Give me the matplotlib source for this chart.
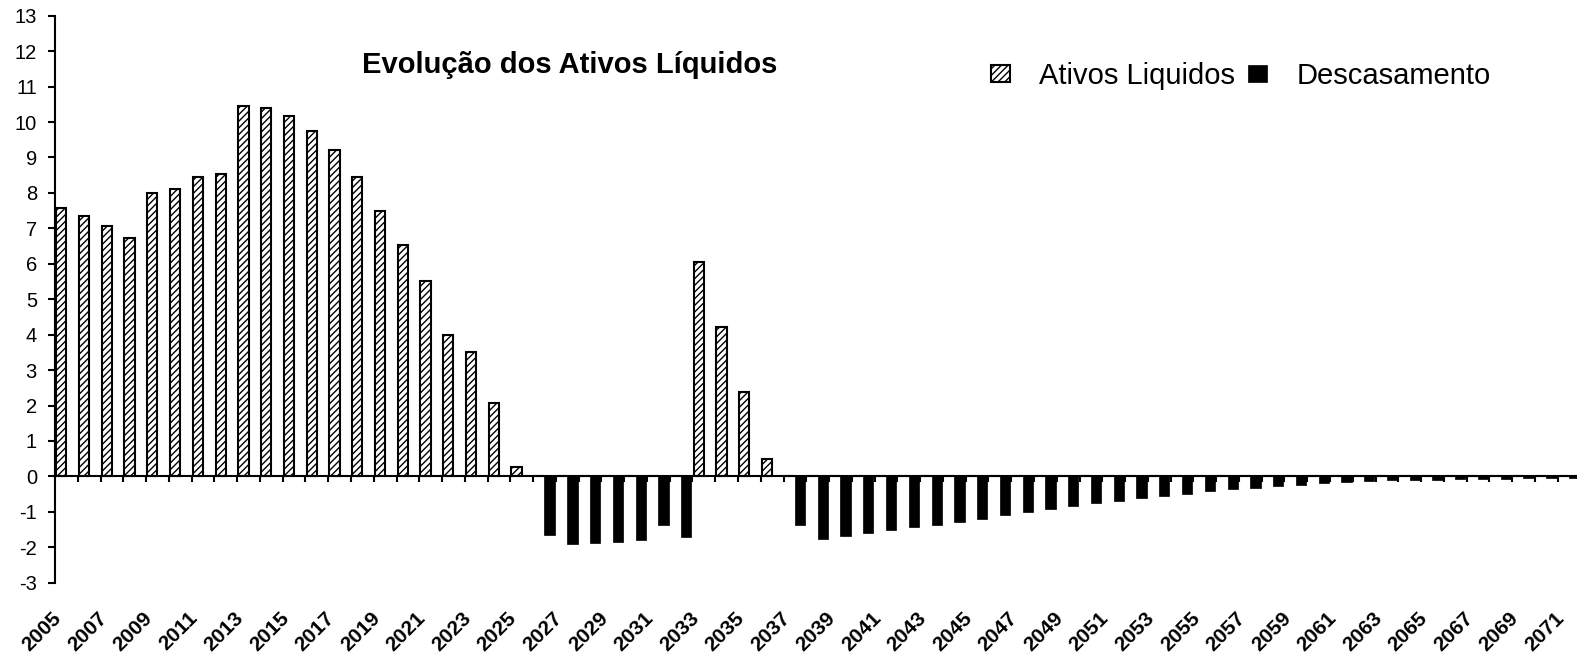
import numpy as np
import matplotlib
matplotlib.use('Agg')
import matplotlib.pyplot as plt
from matplotlib.transforms import ScaledTranslation

plt.rcParams['font.family'] = ['Liberation Sans', 'DejaVu Sans']
plt.rcParams['axes.unicode_minus'] = False
plt.rcParams['hatch.linewidth'] = 1.0

years = list(range(2005, 2072))

ativos = [7.56, 7.34, 7.06, 6.73, 7.99, 8.12, 8.46, 8.52, 10.44, 10.39,
          10.16, 9.74, 9.20, 8.45, 7.50, 6.53, 5.52, 4.00, 3.50, 2.07,
          0.27, 0, 0, 0, 0, 0, 0, 0, 6.05, 4.22,
          2.37, 0.49] + [0] * 35

descasamento = [0] * 21 + [-1.66, -1.91, -1.89, -1.85, -1.80, -1.37, -1.71,
                           0, 0, 0, 0,
                           -1.36, -1.76, -1.68, -1.61, -1.52, -1.44, -1.36, -1.28, -1.19, -1.08,
                           -1.01, -0.93, -0.84, -0.76, -0.69, -0.61, -0.55, -0.49, -0.42, -0.37,
                           -0.33, -0.28, -0.24, -0.20, -0.16, -0.13, -0.11, -0.10, -0.09, -0.08,
                           -0.07, -0.06, -0.05, -0.05, -0.04]

W, H = 1577, 653
fig = plt.figure(figsize=(W / 100, H / 100), dpi=100)
ax = fig.add_axes([55 / W, (H - 582.7) / H, 1 - 55 / W, 567 / H])

x = np.arange(len(years))
w = 0.45
b1 = ax.bar(x - w / 2, ativos, w, facecolor='white', edgecolor='black',
            linewidth=1.5, hatch='/////', label='Ativos Liquidos')
b2 = ax.bar(x + w / 2, descasamento, w, facecolor='black', edgecolor='black',
            linewidth=0.5, label='Descasamento')

ax.set_xlim(-0.5, 66.35)
ax.set_ylim(-3, 13)
ax.set_yticks(range(-3, 14))

for s in ['top', 'right']:
    ax.spines[s].set_visible(False)
ax.spines['bottom'].set_position(('data', 0))
ax.spines['left'].set_linewidth(1.5)
ax.spines['bottom'].set_linewidth(1.5)

ax.tick_params(axis='y', direction='out', length=5, width=1.5, pad=8,
               labelsize=14.5)

# category boundaries as minor ticks, labels on every other year
ax.set_xticks(np.arange(0.5, 66, 1), minor=True)
ax.set_xticks(x[::2])
ax.set_xticklabels([str(y) for y in years[::2]])
ax.tick_params(axis='x', which='minor', direction='out', length=4, width=1.5)
ax.tick_params(axis='x', which='major', length=0, pad=100, labelsize=15)
off = ScaledTranslation(-8 / 100, 0, fig.dpi_scale_trans)
for lbl in ax.get_xticklabels():
    lbl.set_rotation(45)
    lbl.set_ha('right')
    lbl.set_va('center')
    lbl.set_rotation_mode('anchor')
    lbl.set_fontweight('bold')
    lbl.set_transform(lbl.get_transform() + off)

fig.text(570 / W, 1 - 73.3 / H, 'Evolução dos Ativos Líquidos',
         ha='center', va='baseline', fontsize=21, fontweight='bold')

ax.legend(handles=[b1, b2], ncol=2, loc='upper left',
          bbox_to_anchor=(991 / W, 1 - 62 / H), bbox_transform=fig.transFigure,
          frameon=False, fontsize=21, handlelength=0.65, handleheight=0.55,
          handletextpad=1.0, columnspacing=0.45, borderpad=0, borderaxespad=0)

fig.savefig('out.png', dpi=100)
